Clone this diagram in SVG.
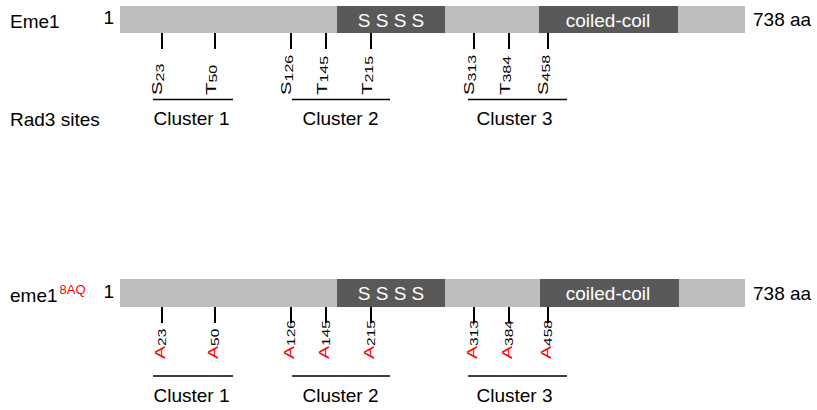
<svg xmlns="http://www.w3.org/2000/svg" width="817" height="410" viewBox="0 0 817 410">
  <style>
    text { font-family: "Liberation Sans", Arial, Helvetica, sans-serif; fill: #000; }
    .lbl { font-size: 19px; }
    .dom { font-size: 19px; fill: #fff; text-anchor: middle; }
    .site { font-size: 14px; }
    .sub { font-size: 11px; fill: #000; }
    .mut { fill: #ff0000; }
    .clu { font-size: 19px; text-anchor: middle; }
    .bar { fill: #bebebe; }
    .domain { fill: #595959; }
    .tick { stroke: #000; stroke-width: 2; }
    .cline { stroke: #000; stroke-width: 1.5; }
  </style>

  <!-- Wild-type Eme1 -->
  <g id="eme1-wt">
    <text class="lbl" x="10" y="28">Eme1</text>
    <text class="lbl" x="114" y="24" text-anchor="end">1</text>
    <rect class="bar" x="120" y="6" width="625" height="27"/>
    <rect class="domain" x="337" y="6" width="108" height="27"/>
    <text class="dom" x="391" y="26.5">S S S S</text>
    <rect class="domain" x="539" y="6" width="139" height="27"/>
    <text class="dom" x="608" y="26.5">coiled-coil</text>
    <text class="lbl" x="753" y="26">738 aa</text>
  </g>

  <!-- Rad3 consensus sites; labels read bottom-to-top, stretched along the reading direction -->
  <g id="wt-sites">
    <path class="tick" d="M162 33V49M215 33V49M291 33V49M326 33V49M371 33V49M474 33V49M509 33V49M548 33V49"/>
    <text class="site" transform="translate(162,95) rotate(-90) scale(1.45,1)">S<tspan class="sub" dy="1.5">23</tspan></text>
    <text class="site" transform="translate(215.5,95) rotate(-90) scale(1.45,1)">T<tspan class="sub" dy="1.5">50</tspan></text>
    <text class="site" transform="translate(291,95) rotate(-90) scale(1.45,1)">S<tspan class="sub" dy="1.5">126</tspan></text>
    <text class="site" transform="translate(326.5,95) rotate(-90) scale(1.45,1)">T<tspan class="sub" dy="1.5">145</tspan></text>
    <text class="site" transform="translate(371.5,95) rotate(-90) scale(1.45,1)">T<tspan class="sub" dy="1.5">215</tspan></text>
    <text class="site" transform="translate(474,95) rotate(-90) scale(1.45,1)">S<tspan class="sub" dy="1.5">313</tspan></text>
    <text class="site" transform="translate(509.5,95) rotate(-90) scale(1.45,1)">T<tspan class="sub" dy="1.5">384</tspan></text>
    <text class="site" transform="translate(548,95) rotate(-90) scale(1.45,1)">S<tspan class="sub" dy="1.5">458</tspan></text>
  </g>

  <g id="wt-clusters">
    <text class="lbl" x="10" y="126">Rad3 sites</text>
    <path class="cline" d="M153 99.5H233M292 99.5H390M468 99.5H567"/>
    <text class="clu" x="191.5" y="125">Cluster 1</text>
    <text class="clu" x="340.5" y="125">Cluster 2</text>
    <text class="clu" x="514.5" y="125">Cluster 3</text>
  </g>

  <!-- eme1-8AQ mutant -->
  <g id="eme1-8aq">
    <text class="lbl" x="10" y="302">eme1<tspan class="mut" font-size="13" dx="2" dy="-8">8AQ</tspan></text>
    <text class="lbl" x="114" y="298" text-anchor="end">1</text>
    <rect class="bar" x="120" y="279" width="625" height="28"/>
    <rect class="domain" x="337" y="279" width="108" height="28"/>
    <text class="dom" x="391" y="300">S S S S</text>
    <rect class="domain" x="540" y="279" width="139" height="28"/>
    <text class="dom" x="608" y="300">coiled-coil</text>
    <text class="lbl" x="753" y="300">738 aa</text>
  </g>

  <g id="mut-sites">
    <path class="tick" d="M162 307V323M215 307V323M291 307V323M326 307V323M371 307V323M474 307V323M509 307V323M548 307V323"/>
    <text class="site mut" transform="translate(165,359) rotate(-90) scale(1.4,1)">A<tspan class="sub" dy="1">23</tspan></text>
    <text class="site mut" transform="translate(218,359) rotate(-90) scale(1.4,1)">A<tspan class="sub" dy="1">50</tspan></text>
    <text class="site mut" transform="translate(294,359) rotate(-90) scale(1.4,1)">A<tspan class="sub" dy="1">126</tspan></text>
    <text class="site mut" transform="translate(329,359) rotate(-90) scale(1.4,1)">A<tspan class="sub" dy="1">145</tspan></text>
    <text class="site mut" transform="translate(374,359) rotate(-90) scale(1.4,1)">A<tspan class="sub" dy="1">215</tspan></text>
    <text class="site mut" transform="translate(477,359) rotate(-90) scale(1.4,1)">A<tspan class="sub" dy="1">313</tspan></text>
    <text class="site mut" transform="translate(512,359) rotate(-90) scale(1.4,1)">A<tspan class="sub" dy="1">384</tspan></text>
    <text class="site mut" transform="translate(551,359) rotate(-90) scale(1.4,1)">A<tspan class="sub" dy="1">458</tspan></text>
  </g>

  <g id="mut-clusters">
    <path class="cline" d="M153 376H233M292 376H390M468 376H567"/>
    <text class="clu" x="191.5" y="402">Cluster 1</text>
    <text class="clu" x="340.5" y="402">Cluster 2</text>
    <text class="clu" x="514.5" y="402">Cluster 3</text>
  </g>
</svg>
